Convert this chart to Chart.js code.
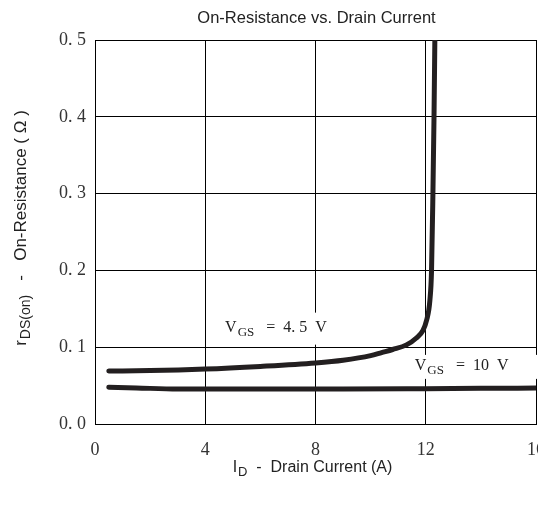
<!DOCTYPE html>
<html>
<head>
<meta charset="utf-8">
<script src="https://cdn.jsdelivr.net/npm/chart.js@4.4.1/dist/chart.umd.min.js"></script>
<style>
  html, body { margin: 0; padding: 0; background: #fff; }
  #wrap { width: 538px; height: 505px; }
</style>
</head>
<body>
<div id="wrap"><canvas id="ronChart" width="538" height="505"></canvas></div>
<script>
// curve: drain current (A) vs rDS(on) (ohm)
var vgs45Current = [0.5, 2, 4, 6, 8, 9, 10, 10.4, 10.8, 11.3, 11.66, 11.9, 12.03, 12.15, 12.21, 12.26, 12.3, 12.33];
var vgs45Ron     = [0.069, 0.0695, 0.0715, 0.075, 0.0795, 0.083, 0.089, 0.093, 0.097, 0.103, 0.112, 0.122, 0.135, 0.161, 0.200, 0.300, 0.400, 0.500];
var vgs10Current = [0.5, 1.5, 3, 6, 9, 12, 14, 16];
var vgs10Ron     = [0.048, 0.047, 0.0455, 0.0455, 0.0455, 0.046, 0.0465, 0.0468];

var xTicks = [0, 4, 8, 12, 16];
var yTickLabels = ['0. 0', '0. 1', '0. 2', '0. 3', '0. 4', '0. 5'];

function toPoints(xs, ys) {
    return xs.map(function (x, i) { return { x: x, y: ys[i] }; });
}

var serif = '"Liberation Serif", "DejaVu Serif", serif';
var sans = '"Liberation Sans", Arial, sans-serif';

// draws "main" + subscript + rest, starting at x (left aligned)
function subText(ctx, x, y, main, sub, rest, size, subSize, family) {
    ctx.font = size + 'px ' + family;
    ctx.fillText(main, x, y);
    x += ctx.measureText(main).width + 1;
    ctx.font = subSize + 'px ' + family;
    ctx.fillText(sub, x, y + size * 0.3);
    x += ctx.measureText(sub).width;
    ctx.font = size + 'px ' + family;
    ctx.fillText(rest, x, y);
    return x + ctx.measureText(rest).width;
}
function subWidth(ctx, main, sub, rest, size, subSize, family) {
    ctx.font = size + 'px ' + family;
    var w = ctx.measureText(main).width + 1 + ctx.measureText(rest).width;
    ctx.font = subSize + 'px ' + family;
    return w + ctx.measureText(sub).width;
}

var labelsPlugin = {
    id: 'labelsPlugin',
    beforeDatasetsDraw: function (chart) {
        var ctx = chart.ctx, xs = chart.scales.x, ys = chart.scales.y;
        ctx.save();
        ctx.textBaseline = 'middle';
        // white boxes behind the VGS labels
        ctx.fillStyle = '#fff';
        ctx.fillRect(xs.getPixelForValue(4.4), ys.getPixelForValue(0.145), 112, 32);
        ctx.fillRect(xs.getPixelForValue(11.25), ys.getPixelForValue(0.09), 140, 24);
        ctx.fillStyle = '#222';
        subText(ctx, xs.getPixelForValue(4.72), ys.getPixelForValue(0.125), 'V', 'GS', '   =  4. 5  V', 16, 13, serif);
        subText(ctx, xs.getPixelForValue(11.6), ys.getPixelForValue(0.0755), 'V', 'GS', '   =  10  V', 16, 13, serif);
        ctx.restore();
    },
    afterDraw: function (chart) {
        var ctx = chart.ctx, area = chart.chartArea;
        var cx = (area.left + area.right) / 2;
        ctx.save();
        ctx.fillStyle = '#222';
        ctx.textBaseline = 'middle';
        ctx.textAlign = 'center';
        ctx.font = '16.5px ' + sans;
        ctx.fillText('On-Resistance vs. Drain Current', cx + 1, 18);

        ctx.textAlign = 'left';
        var w = subWidth(ctx, 'I', 'D', '  -  Drain Current (A)', 16, 13, sans);
        subText(ctx, cx - 3 - w / 2, 468, 'I', 'D', '  -  Drain Current (A)', 16, 13, sans);

        ctx.translate(21, 228);
        ctx.rotate(-Math.PI / 2);
        var w2 = subWidth(ctx, 'r', 'DS(on)', '   -   On-Resistance ( \u03A9 )', 17, 14, sans);
        subText(ctx, -w2 / 2, 0, 'r', 'DS(on)', '   -   On-Resistance ( \u03A9 )', 17, 14, sans);
        ctx.restore();
    }
};

var ctx = document.getElementById('ronChart').getContext('2d');
var ronChart = new Chart(ctx, {
    type: 'line',
    data: {
        datasets: [
            {
                label: 'VGS = 4.5 V',
                data: toPoints(vgs45Current, vgs45Ron),
                borderColor: '#231f20',
                borderWidth: 5,
                borderCapStyle: 'round',
                pointRadius: 0,
                cubicInterpolationMode: 'monotone'
            },
            {
                label: 'VGS = 10 V',
                data: toPoints(vgs10Current, vgs10Ron),
                borderColor: '#231f20',
                borderWidth: 5,
                borderCapStyle: 'round',
                pointRadius: 0,
                cubicInterpolationMode: 'monotone'
            }
        ]
    },
    options: {
        responsive: false,
        animation: false,
        layout: { padding: { top: 40, left: 0, right: 2, bottom: 0 } },
        scales: {
            x: {
                type: 'linear',
                min: 0,
                max: 16,
                afterBuildTicks: function (scale) {
                    scale.ticks = xTicks.map(function (v) { return { value: v }; });
                },
                afterFit: function (scale) {
                    scale.height = 81;
                    scale.paddingLeft = 0;
                    scale.paddingRight = 0;
                },
                grid: { color: '#000', lineWidth: 1, drawTicks: false },
                border: { color: '#000', width: 1 },
                ticks: {
                    padding: 15,
                    maxRotation: 0,
                    autoSkip: false,
                    color: '#333',
                    font: { family: serif, size: 18 }
                }
            },
            y: {
                min: 0,
                max: 0.5,
                ticks: {
                    stepSize: 0.1,
                    padding: 9,
                    color: '#333',
                    font: { family: serif, size: 18 },
                    callback: function (v, i) { return yTickLabels[i]; }
                },
                afterFit: function (scale) {
                    scale.width = 95;
                    scale.paddingTop = 0;
                    scale.paddingBottom = 0;
                },
                grid: { color: '#000', lineWidth: 1, drawTicks: false },
                border: { color: '#000', width: 1 }
            }
        },
        plugins: {
            legend: { display: false },
            title: { display: false },
            tooltip: { enabled: false }
        }
    },
    plugins: [labelsPlugin]
});
</script>
</body>
</html>
